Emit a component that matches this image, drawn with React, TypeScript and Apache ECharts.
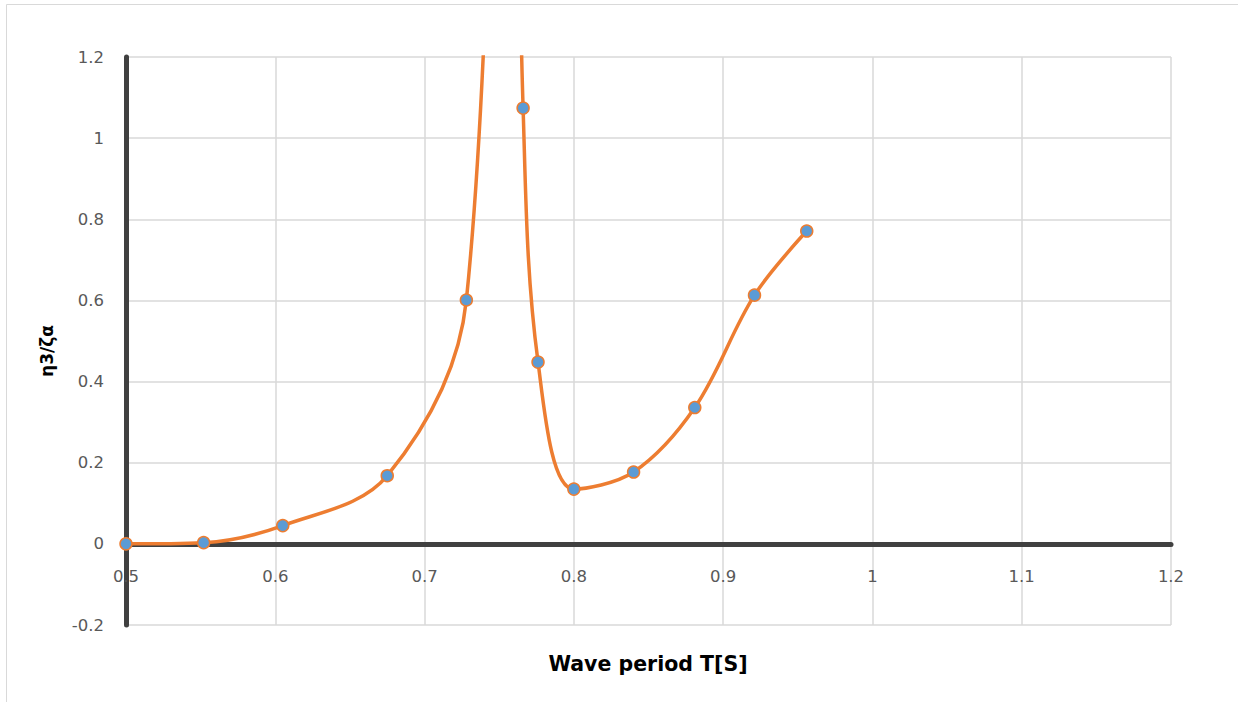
import React, { useEffect, useRef } from "react";
import * as echarts from "echarts";

// Wave period T [s] and heave response η3/ζα
const periods = [0.5, 0.552, 0.605, 0.675, 0.728, 0.754, 0.766, 0.776, 0.8, 0.84, 0.881, 0.921, 0.956];
const rao = [0, 0.003, 0.045, 0.168, 0.601, 3.0, 1.074, 0.448, 0.135, 0.177, 0.336, 0.613, 0.771];

const xTitle = "Wave period T[S]";
const yTitle = "η3/ζα";

const FONT = "'DejaVu Sans', 'Noto Sans', sans-serif";

// plot area
const GRID = { left: 126, right: 67, top: 57, bottom: 77 };
const Y_MIN = -0.2;
const Y_MAX = 1.2;

export default function App() {
  const ref = useRef<HTMLDivElement>(null);

  useEffect(() => {
    if (!ref.current) return;
    const chart = echarts.init(ref.current, null, { renderer: "svg" });
    const points = periods.map((t, i) => [t, rao[i]]);
    const plotH = 702 - GRID.top - GRID.bottom;
    // distance from the bottom edge of the plot up to y = 0
    const zeroOffset = (plotH * (0 - Y_MIN)) / (Y_MAX - Y_MIN);
    const fmt = (v: number) => String(Math.round(v * 10) / 10);

    chart.setOption({
      animation: false,
      backgroundColor: "#ffffff",
      grid: { ...GRID, containLabel: false, outerBoundsMode: "none" },
      graphic: [
        {
          type: "rect",
          shape: { x: 6.5, y: 4.5, width: 1260, height: 720 },
          style: { fill: "none", stroke: "#d9d9d9", lineWidth: 1 },
          silent: true,
          z: -10,
        },
        {
          type: "text",
          x: 648,
          y: 664,
          style: {
            text: xTitle,
            fontFamily: FONT,
            fontWeight: "bold",
            fontSize: 20.5,
            fill: "#000000",
            align: "center",
            verticalAlign: "middle",
          },
        },
        {
          type: "text",
          x: 47,
          y: 351,
          rotation: Math.PI / 2,
          style: {
            text: yTitle,
            fontFamily: FONT,
            fontWeight: "bold",
            fontSize: 17,
            fill: "#000000",
            align: "center",
            verticalAlign: "middle",
          },
        },
      ],
      xAxis: {
        type: "value",
        min: 0.5,
        max: 1.2,
        interval: 0.1,
        position: "bottom",
        offset: -zeroOffset,
        axisLine: { show: true, onZero: false, lineStyle: { color: "#404040", width: 5 } },
        axisTick: { show: false },
        axisLabel: {
          fontFamily: FONT,
          fontSize: 16.5,
          color: "#595959",
          margin: 24,
          formatter: fmt,
        },
        splitLine: { show: true, lineStyle: { color: "#d9d9d9", width: 1.5 } },
      },
      yAxis: {
        type: "value",
        min: Y_MIN,
        max: Y_MAX,
        interval: 0.2,
        axisLine: { show: true, onZero: false, lineStyle: { color: "#404040", width: 5 } },
        axisTick: { show: false },
        axisLabel: {
          fontFamily: FONT,
          fontSize: 16.5,
          color: "#595959",
          margin: 22,
          formatter: fmt,
        },
        splitLine: { show: true, lineStyle: { color: "#d9d9d9", width: 1.5 } },
      },
      series: [
        {
          type: "line",
          data: points,
          smooth: 0.35,
          clip: true,
          symbol: "circle",
          symbolSize: 12,
          lineStyle: { color: "#ED7D31", width: 3.5 },
          itemStyle: { color: "#5B9BD5", borderColor: "#ED7D31", borderWidth: 1.5 },
          z: 5,
        },
      ],
    });
    return () => chart.dispose();
  }, []);

  return (
    <div
      ref={ref}
      style={{ position: "fixed", left: 0, top: 0, width: 1238, height: 702, background: "#fff" }}
    />
  );
}
